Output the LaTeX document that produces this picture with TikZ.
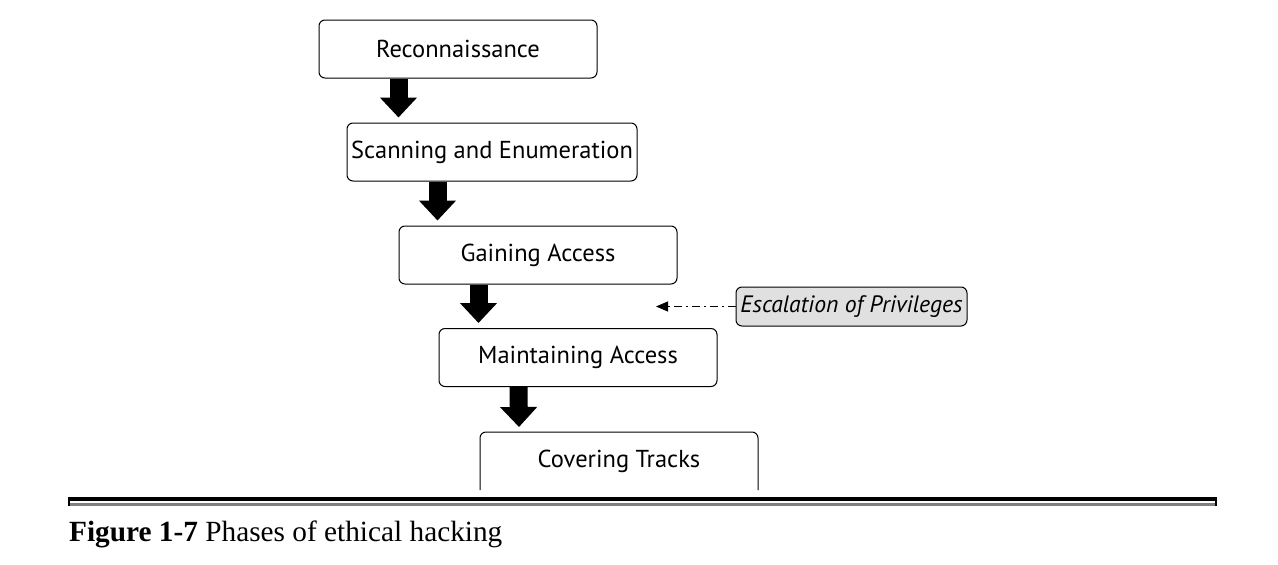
\documentclass[tikz,border=0pt]{standalone}
\usepackage{fontspec}
\setmainfont{Liberation Serif}
\newfontfamily\boxfont{PT Sans}
\usetikzlibrary{arrows.meta,positioning,calc}

\begin{document}
\begin{tikzpicture}[x=1pt,y=-1pt,
 phase/.style={draw,rounded corners=6pt,line width=1pt,minimum width=278pt,minimum height=58pt,
  font=\boxfont\fontsize{24.5}{28}\selectfont,inner sep=0pt},
 note/.style={draw,rounded corners=6pt,line width=1pt,fill=black!12,minimum width=231pt,minimum height=39pt,
  font=\boxfont\itshape\fontsize{23.7}{27}\selectfont,inner sep=0pt},
 blockarrow/.style={line width=18pt,-{Triangle[width=36pt,length=20pt]}},
 hint/.style={line width=1pt,dash pattern=on 8pt off 4pt on 2pt off 4pt,-{Triangle[length=12pt,width=10pt]}}]
\useasboundingbox (0,0) rectangle (1278,565);
\node[phase] (recon) at (458,49) {Reconnaissance};
\node[phase,minimum width=290pt] (scan) at (492,152) {Scanning and Enumeration};
\node[phase] (gain) at (538,255) {Gaining Access};
\node[phase] (maint) at (578,357.5) {Maintaining Access};
\node[note] (escal) at (851.5,306.5) {Escalation of Privileges};
% last box, cut off by the rule
\draw[line width=1pt,rounded corners=6pt] (480,490) -- (480,432) -- (758,432) -- (758,490);
\node[font=\boxfont\fontsize{24.5}{28}\selectfont] (cover) at (619,461) {Covering Tracks};
\coordinate (coverN) at (619,432);
% phase arrows
\draw[blockarrow] ([xshift=80pt]recon.south west) -- ([xshift=52pt,yshift=5pt]scan.north west);
\draw[blockarrow] ([xshift=91pt]scan.south west) -- ([xshift=39pt,yshift=5pt]gain.north west);
\draw[blockarrow] ([xshift=80pt]gain.south west) -- ([xshift=40pt,yshift=5pt]maint.north west);
\draw[blockarrow] ([xshift=80pt]maint.south west) -- ([xshift=-100pt,yshift=5pt]coverN);
\coordinate (hintend) at (656,306.5);
\draw[hint] (escal.west) -- (hintend);
% rule and caption
\fill (68,497) rectangle (1217,501);
\fill[black!50] (70,503) rectangle (1215,505.5);
\fill (68,497) rectangle (70,505.5);
\fill (1215,497) rectangle (1217,505.5);
\node[anchor=base west,inner sep=0pt,font=\fontsize{29.3}{33}\selectfont] (cap) at (69,541)
 {\textbf{Figure 1-7} Phases of ethical hacking};
\end{tikzpicture}
\end{document}
